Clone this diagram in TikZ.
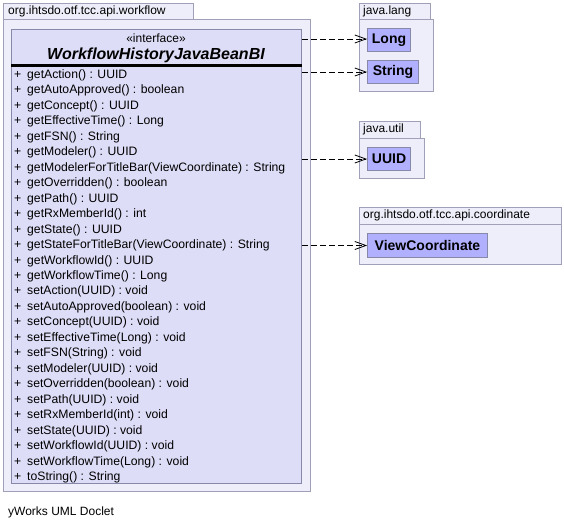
\documentclass[tikz,border=0pt]{standalone}
\usepackage{fontspec}
\setmainfont{Liberation Sans}
\usetikzlibrary{arrows.meta}
\definecolor{pkgfill}{HTML}{EEEEFA}
\definecolor{pkgdraw}{HTML}{A0A0B8}
\definecolor{clsfill}{HTML}{DDDDF8}
\definecolor{clsdraw}{HTML}{8888A8}
\definecolor{smallfill}{HTML}{B0B0FF}
\tikzset{
  pkg/.style={draw=pkgdraw, fill=pkgfill, line width=1pt, anchor=north west, inner sep=0pt, minimum width=#1},
  box/.style={draw=clsdraw, fill=#1, line width=1pt, anchor=north west, inner sep=0pt},
  lbl/.style={font=\fontsize{12}{14}\selectfont, anchor=west, inner sep=0pt},
  cname/.style={font=\fontsize{14}{16}\selectfont\bfseries, inner sep=0pt},
  member/.style={font=\fontsize{12.2}{14}\selectfont, anchor=base west, inner sep=0pt},
  dep/.style={dashed, dash pattern=on 6pt off 3pt, line width=0.8pt, -{Straight Barb[length=11pt,width=8pt,line width=0.8pt]}}
}
\begin{document}
\begin{tikzpicture}[x=1pt,y=-1pt]
\useasboundingbox (0,0) rectangle (564,529);
% workflow package
\node[pkg=190pt, minimum height=16pt] (wftab) at (3,3) {};
\node[pkg=307pt, minimum height=472pt] (wfbody) at (3,19) {};
\node[lbl] (wflbl) at (8,11.5) {org.ihtsdo.otf.tcc.api.workflow};
% main class
\node[box=clsfill, minimum width=290pt, minimum height=454pt] (cls) at (11,29) {};
\node[font=\fontsize{12}{14}\selectfont, inner sep=0pt] (stereo) at (156,38.5) {«interface»};
\node[font=\fontsize{16}{19}\selectfont\bfseries\itshape, inner sep=0pt] (cname) at (156,55) {WorkflowHistoryJavaBeanBI};
\draw[line width=2.2pt] (cls.west |- 0,65.6) coordinate (sepL) -- (cls.east |- 0,65.6) coordinate (sepR);
\foreach \t [count=\i from 0] in {
 getAction() : UUID,
 getAutoApproved() : boolean,
 getConcept() : UUID,
 getEffectiveTime() : Long,
 getFSN() : String,
 getModeler() : UUID,
 getModelerForTitleBar(ViewCoordinate) : String,
 getOverridden() : boolean,
 getPath() : UUID,
 getRxMemberId() : int,
 getState() : UUID,
 getStateForTitleBar(ViewCoordinate) : String,
 getWorkflowId() : UUID,
 getWorkflowTime() : Long,
 setAction(UUID) : void,
 setAutoApproved(boolean) : void,
 setConcept(UUID) : void,
 setEffectiveTime(Long) : void,
 setFSN(String) : void,
 setModeler(UUID) : void,
 setOverridden(boolean) : void,
 setPath(UUID) : void,
 setRxMemberId(int) : void,
 setState(UUID) : void,
 setWorkflowId(UUID) : void,
 setWorkflowTime(Long) : void,
 toString() : String}
{
  \node[member] (p\i) at (14,{78.5+15.46*\i}) {+};
  \node[member] (m\i) at (27,{78.5+15.46*\i}) {\t};
}
% java.lang
\node[pkg=71pt, minimum height=16pt] (langtab) at (359,3) {};
\node[pkg=74pt, minimum height=72pt] (langbody) at (359,19) {};
\node[lbl] (langlbl) at (363,11.5) {java.lang};
\node[box=smallfill, minimum width=43pt, minimum height=23pt] (long) at (367,28) {};
\node[cname] (longt) at (long.center) {Long};
\node[box=smallfill, minimum width=51pt, minimum height=23pt] (string) at (367,60) {};
\node[cname] (stringt) at (string.center) {String};
% java.util
\node[pkg=61pt, minimum height=17pt] (utiltab) at (359,121) {};
\node[pkg=65pt, minimum height=40pt] (utilbody) at (359,138) {};
\node[lbl] (utillbl) at (363,129.5) {java.util};
\node[box=smallfill, minimum width=43pt, minimum height=23pt] (uuid) at (367,147) {};
\node[cname] (uuidt) at (uuid.center) {UUID};
% coordinate
\node[pkg=202pt, minimum height=17pt] (coordtab) at (359,207) {};
\node[pkg=202pt, minimum height=40pt] (coordbody) at (359,224) {};
\node[lbl] (coordlbl) at (363,215.5) {org.ihtsdo.otf.tcc.api.coordinate};
\node[box=smallfill, minimum width=120pt, minimum height=24pt] (vc) at (367,233) {};
\node[cname] (vct) at (vc.center) {ViewCoordinate};
% dependencies
\draw[dep] (cls.east |- 0,39) -- (long.west |- 0,39);
\draw[dep] (cls.east |- string.west) -- (string.west);
\draw[dep] (cls.east |- uuid.west) -- (uuid.west);
\draw[dep] (cls.east |- vc.west) -- (vc.west);
% footer
\node[lbl] (footer) at (8,512) {yWorks UML Doclet};
\end{tikzpicture}
\end{document}
